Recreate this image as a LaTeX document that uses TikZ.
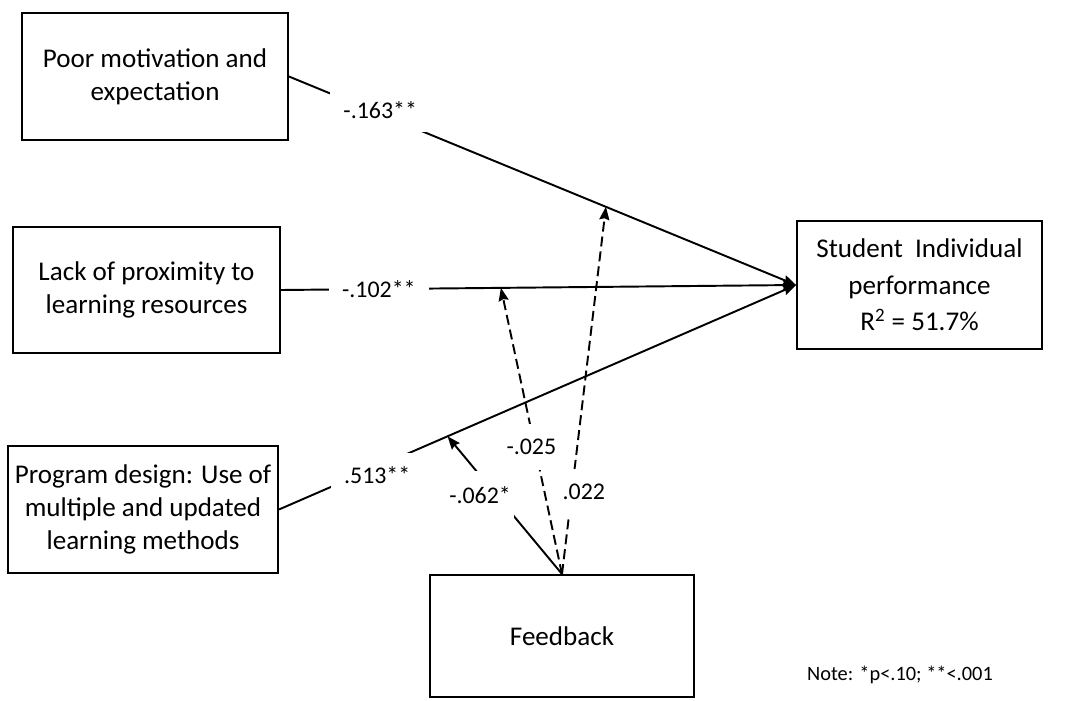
\documentclass[tikz,border=0pt]{standalone}
\usepackage{fontspec}
\setmainfont{Carlito}
\usetikzlibrary{calc, arrows.meta}

\begin{document}
\begin{tikzpicture}[x=0.02cm, y=-0.02cm, line width=1.1pt, >={Stealth[length=0.26cm, width=0.2cm, inset=0.03cm]},
	box/.style={draw, rectangle, align=center, inner sep=0pt, font=\fontsize{15.4}{19}\selectfont},
	lbl/.style={fill=white, inner sep=0.26cm, font=\fontsize{13.6}{16}\selectfont},
	mlbl/.style={fill=white, inner xsep=0.06cm, inner ysep=0.3cm, font=\fontsize{13.6}{16}\selectfont}]
	\useasboundingbox (0,0) rectangle (1070,700);
	\node[box, minimum width=5.32cm, minimum height=2.54cm] (PM)at(155, 76.5) {Poor motivation and\\expectation};
	\node[box, minimum width=5.34cm, minimum height=2.52cm] (LP)at(146.5, 290) {Lack of proximity to\\learning resources};
	\node[box, minimum width=5.4cm, minimum height=2.54cm] (PD)at(143, 509.5) {Program design: Use of\\multiple and updated\\learning methods};
	\node[box, minimum width=4.9cm, minimum height=2.56cm, font=\fontsize{15.4}{20.7}\selectfont] (SIP)at(919.5, 285) {Student~ Individual\\performance\\R\textsuperscript{2} = 51.7\%};
	\node[box, minimum width=5.28cm, minimum height=2.44cm] (FB)at(562, 636) {Feedback};
	\node[font=\fontsize{11.6}{14}\selectfont] (note)at(900, 675) {Note: *p<.10; **<.001};
	% direct paths
	\draw[->] (PM.east) -- (SIP.west) node[lbl, pos=0.18, yshift=0.08cm] {-.163**} coordinate[pos=0.625] (m1);
	\draw[->] (LP.east) -- (SIP.west) node[lbl, pos=0.19] {-.102**} coordinate[pos=0.427] (m2);
	\draw[->] (PD.east) -- (SIP.west) node[lbl, pos=0.19, yshift=-0.16cm] {.513**} coordinate[pos=0.326] (m3);
	% moderation by feedback
	\draw[->, dash pattern=on 0.2cm off 0.1cm] (FB.north) -- (m1) node[mlbl, pos=0.224, xshift=0.24cm] {.022};
	\draw[->, dash pattern=on 0.2cm off 0.1cm] (FB.north) -- (m2) node[mlbl, pos=0.444, xshift=-0.07cm] {-.025};
	\draw[->] (FB.north) -- (m3) node[mlbl, pos=0.576, xshift=-0.32cm] {-.062*};
\end{tikzpicture}
\end{document}
